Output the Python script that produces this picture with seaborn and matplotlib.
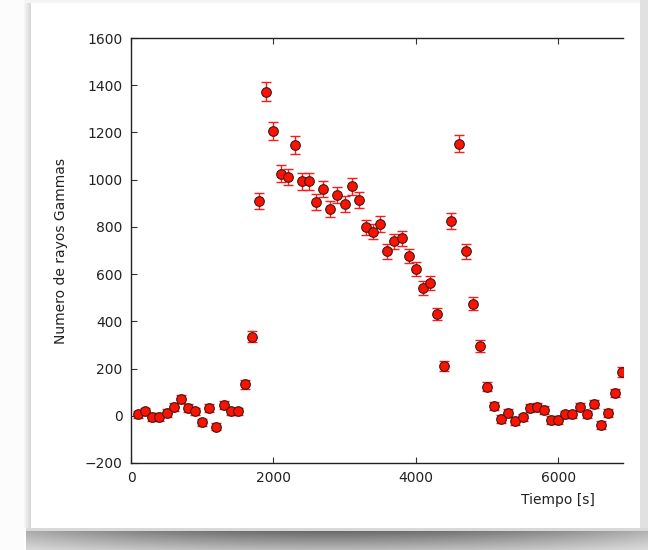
import numpy as np
import pandas as pd
import matplotlib
matplotlib.use("Agg")
import matplotlib.pyplot as plt
import seaborn as sns

# ---- data ----
tiempo = [100, 200, 300, 400, 500, 600, 700, 800, 900, 1000,
          1100, 1200, 1300, 1400, 1500, 1600, 1700, 1800, 1900, 2000,
          2100, 2200, 2300, 2400, 2500, 2600, 2700, 2800, 2900, 3000,
          3100, 3200, 3300, 3400, 3500, 3600, 3700, 3800, 3900, 4000,
          4100, 4200, 4300, 4400, 4500, 4600, 4700, 4800, 4900, 5000,
          5100, 5200, 5300, 5400, 5500, 5600, 5700, 5800, 5900, 6000,
          6100, 6200, 6300, 6400, 6500, 6600, 6700, 6800, 6900, 7000]
gammas = [6, 19, -6, -6, 12, 36, 71, 34, 19, -28,
          34, -46, 46, 19, 19, 133, 335, 909, 1372, 1205,
          1026, 1011, 1147, 993, 993, 904, 961, 875, 937, 896,
          972, 915, 799, 780, 813, 697, 740, 752, 676, 620,
          540, 561, 431, 212, 826, 1153, 696, 475, 295, 123,
          43, -13, 12, -22, -7, 34, 38, 25, -19, -19,
          6, 6, 37, 6, 50, -40, 12, 96, 185, 371]
errores = [16, 16, 16, 16, 16, 17, 17, 17, 16, 16,
           17, 16, 17, 16, 16, 19, 24, 35, 40, 38,
           36, 35, 37, 35, 35, 34, 35, 33, 34, 34,
           35, 34, 32, 32, 33, 31, 32, 32, 31, 30,
           29, 29, 27, 22, 33, 37, 31, 28, 24, 19,
           17, 16, 16, 16, 16, 17, 17, 17, 16, 16,
           16, 16, 17, 16, 17, 16, 16, 18, 21, 25]
xticks = [0, 2000, 4000, 6000]
yticks = [-200, 0, 200, 400, 600, 800, 1000, 1200, 1400, 1600]

df = pd.DataFrame({"Tiempo": tiempo, "Gammas": gammas, "err": errores})

sns.set_style("ticks")
plt.rcParams["font.family"] = ["DejaVu Sans"]

W, H = 648, 550
fig = plt.figure(figsize=(W / 100, H / 100), dpi=100)
fig.patch.set_facecolor("white")

# ---- photo-card background (decoration) ----
bg = np.ones((H, W))
yy, xx = np.mgrid[0:H, 0:W]
bg[:, :24] = 0.985
# left soft shadow
left = (xx >= 24) & (xx < 31) & (yy < 528)
bg[left] = 0.82 + 0.14 * np.clip((31 - xx[left]) / 7.0, 0, 1)
# top faint edge
top = (yy < 3) & (xx >= 24)
bg[top] = 0.96
# right strip
right = (xx >= 640) & (yy < 528)
bg[right] = 0.88
# bottom curled shadow
bot = (yy >= 528) & (xx >= 26)
prof = np.clip((yy[bot] - 531) / 19.0, 0, 1)
curve = 0.42 + 0.30 * np.abs((xx[bot] - 330) / 330.0) ** 2
shade = curve + (1 - curve) * 0.55 * prof
bg[bot] = np.where(yy[bot] < 531, 0.85, shade)
bgax = fig.add_axes([0, 0, 1, 1], zorder=-10)
bgax.imshow(bg, cmap="gray", vmin=0, vmax=1, aspect="auto",
            interpolation="bilinear")
bgax.set_axis_off()

# ---- main axes ----
ax = fig.add_axes([131 / W, (H - 463) / H, (623 - 131) / W, (463 - 38) / H])
ax.set_facecolor("white")

ax.errorbar(df["Tiempo"], df["Gammas"], yerr=df["err"], fmt="none",
            ecolor="#ff1a1a", elinewidth=1.0, capsize=3.8, capthick=1.0,
            zorder=2)
sns.scatterplot(data=df, x="Tiempo", y="Gammas", ax=ax, color="#ff1100",
                edgecolor="#3a1a1a", linewidth=0.8, s=48, zorder=3,
                legend=False)

ax.set_xlim(0, 6910)
ax.set_ylim(-200, 1600)
ax.set_xticks(xticks)
ax.set_yticks(yticks)
ax.set_xticklabels([str(v) for v in xticks])
ax.set_yticklabels([("\u2212" + str(-v)) if v < 0 else str(v) for v in yticks])

ax.tick_params(direction="in", length=4, width=0.8, colors="#333333",
               labelcolor="#222222", labelsize=10, pad=6,
               top=True, right=False)
for s in ["left", "top", "bottom"]:
    ax.spines[s].set_linewidth(1.0)
    ax.spines[s].set_color("#222222")
ax.spines["right"].set_visible(False)

ax.set_xlabel("Tiempo [s]", fontsize=10, color="#222222")
ax.set_ylabel("Numero de rayos Gammas", fontsize=10, color="#222222")
ax.xaxis.set_label_coords(0.867, -0.07)
ax.yaxis.set_label_coords(-0.128, 0.5)

fig.savefig("out.png", dpi=100, facecolor=fig.get_facecolor())
